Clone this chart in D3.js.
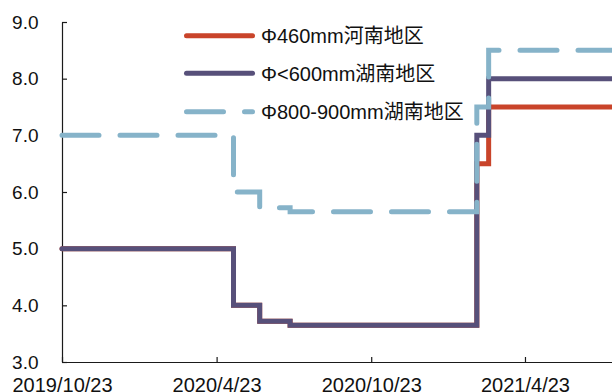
<!DOCTYPE html>
<html>
<head>
<meta charset="utf-8">
<script src="https://cdn.jsdelivr.net/npm/d3@7"></script>
<style>
  body { margin: 0; background: #fff; }
  svg text { font-family: "Liberation Sans", Arial, "Noto Sans CJK SC", sans-serif; }
</style>
</head>
<body>
<script>
// step dates (price changes) and values per series
const stepDates = ["2019-10-23", "2020-05-13", "2020-06-13", "2020-07-19", "2021-02-25", "2021-03-11", "2021-08-04"];
const henan460 = [5.0, 4.0, 3.72, 3.65, 6.5, 7.5, 7.5];
const hunan600 = [5.0, 4.0, 3.72, 3.65, 7.0, 8.0, 8.0];
const hunan800 = [7.0, 6.0, 5.72, 5.65, 7.5, 8.5, 8.5];
const seriesNames = ["Φ460mm河南地区", "Φ<600mm湖南地区", "Φ800-900mm湖南地区"];
const xTicks = ["2019-10-23", "2020-04-23", "2020-10-23", "2021-04-23"];
const yTicks = [3, 4, 5, 6, 7, 8, 9];

const width = 612, height = 392;
const parse = d3.timeParse("%Y-%m-%d");
const colors = ["#c9442a", "#57507a", "#86b3c9"];

const svg = d3.select("body").append("svg")
  .attr("width", width)
  .attr("height", height);

// scales
const x = d3.scaleTime()
  .domain([parse("2019-10-23"), parse("2021-08-04")])
  .range([62, 612]);
const y = d3.scaleLinear().domain([3, 9]).range([362, 22]);

// axes
const yAxis = d3.axisLeft(y)
  .tickValues(yTicks)
  .tickSize(-5)
  .tickSizeOuter(0)
  .tickPadding(23.5)
  .tickFormat(d3.format(".1f"));
const gY = svg.append("g").attr("transform", "translate(62,0)").call(yAxis);

const xAxis = d3.axisBottom(x)
  .tickValues(xTicks.map(parse))
  .tickSize(-5)
  .tickSizeOuter(0)
  .tickPadding(15.5)
  .tickFormat(d3.timeFormat("%Y/%-m/%d"));
const gX = svg.append("g").attr("transform", "translate(0,362)").call(xAxis);

[gX, gY].forEach((g) => {
  g.selectAll("path, line").attr("stroke", "#1a1a1a").attr("stroke-width", 1.2);
  g.selectAll("text").attr("fill", "#111")
    .style("font-family", "'Liberation Sans', Arial, sans-serif");
});
gY.selectAll("text").attr("font-size", "19px");
gX.selectAll("text").attr("font-size", "20px");

// lines
const line = d3.line()
  .x((d) => x(d.date))
  .y((d) => y(d.value))
  .curve(d3.curveStepAfter);

const allSeries = [henan460, hunan600, hunan800].map((vals) =>
  vals.map((v, i) => ({ date: parse(stepDates[i]), value: v }))
);

allSeries.forEach((s, i) => {
  svg.append("path")
    .datum(s)
    .attr("d", line)
    .attr("fill", "none")
    .attr("stroke", colors[i])
    .attr("stroke-width", 5)
    .attr("stroke-linecap", "round")
    .attr("stroke-linejoin", "miter")
    .attr("stroke-dasharray", i === 2 ? "37,21" : null);
});

// legend
const legendY = [35.7, 73.3, 111.7];
seriesNames.forEach((name, i) => {
  svg.append("line")
    .attr("x1", 186.5)
    .attr("x2", 252.5)
    .attr("y1", legendY[i])
    .attr("y2", legendY[i])
    .attr("stroke", colors[i])
    .attr("stroke-width", 5)
    .attr("stroke-linecap", "round")
    .attr("stroke-dasharray", i === 2 ? "37,21" : null);
  svg.append("text")
    .attr("x", 261)
    .attr("y", legendY[i])
    .attr("dy", "0.36em")
    .attr("font-size", "20px")
    .attr("fill", "#111")
    .text(name);
});
</script>
</body>
</html>
